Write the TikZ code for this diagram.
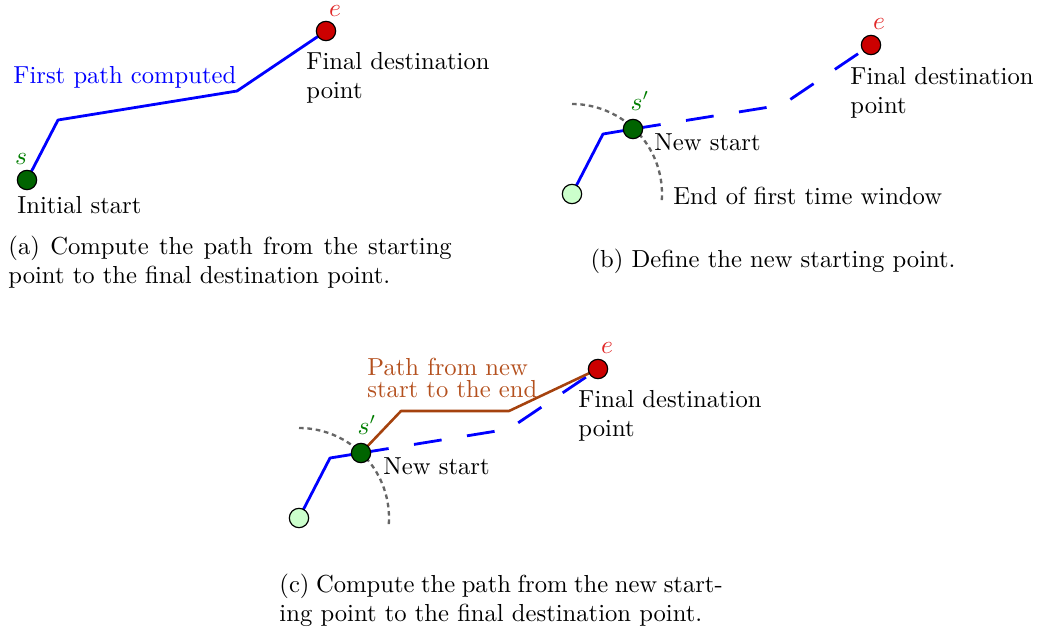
\documentclass[tikz,border=0pt]{standalone}
\usetikzlibrary{calc}
\definecolor{dgreen}{RGB}{0,100,0}
\definecolor{lgreen}{RGB}{204,255,204}
\definecolor{ered}{RGB}{204,0,0}
\definecolor{brn}{RGB}{165,66,14}
\definecolor{txtbrn}{RGB}{180,80,30}
\definecolor{txtgreen}{RGB}{0,125,0}
\definecolor{txtred}{RGB}{225,40,40}
\begin{document}
\begin{tikzpicture}[x=0.4286pt,y=-0.4286pt,
  every node/.style={font=\fontsize{10.55}{12.3}\selectfont},
  pt/.style={circle,draw=black,line width=0.5pt,minimum size=8.3pt,inner sep=0pt},
  startpt/.style={pt,fill=dgreen},
  endpt/.style={pt,fill=ered},
  oldpt/.style={pt,fill=lgreen},
  route/.style={blue,line width=1.2pt,line join=round},
  future/.style={route,dash pattern=on 12pt off 11pt},
  newroute/.style={brn,line width=1.1pt,line join=round},
  window/.style={black!60,line width=1pt,dash pattern=on 2pt off 1.6pt},
  txt/.style={inner sep=0pt,anchor=base west},
  ml/.style={inner sep=0pt,anchor=north west,align=left},
  lab/.style={inner sep=0pt,anchor=base},
  capbox/.style={inner sep=0pt,anchor=north west,text width=190pt,align=justify}
]
\useasboundingbox (0,0) rectangle (1044,628);

% ---------- (a) ----------
\coordinate (as) at (27,180);
\coordinate (a1) at (58,120);
\coordinate (a2) at (237,91);
\coordinate (ae) at (326,31);
\draw[route] (as) -- (a1) -- (a2) -- (ae);
\node[startpt] (sa) at (as) {};
\node[endpt] (ea) at (ae) {};
\node[lab,text=txtgreen] (sla) at (21,164) {$s$};
\node[lab,text=txtred] (ela) at (335,16) {$e$};
\node[txt,text=blue] (fpc) at (13,83) {First path computed};
\node[ml] (fda) at (306,52) {Final destination\\point};
\node[txt] (isa) at (17,213) {Initial start};
\node[capbox] (capa) at (8,236) {(a) Compute the path from the starting\linebreak point to the final destination point.};

% ---------- (b) ----------
\coordinate (bs) at (572,194);
\coordinate (b1) at (603,134);
\coordinate (bn) at (633,129);
\coordinate (b2) at (782,105);
\coordinate (be) at (871,45);
\draw[route] (bs) -- (b1) -- (bn);
\draw[future] (bn) -- (b2) -- (be);
\draw[window] ($(bs)+(0,-90)$) arc[start angle=-90,end angle=4,radius=90];
\node[oldpt] (sb0) at (bs) {};
\node[startpt] (sb) at (bn) {};
\node[endpt] (eb) at (be) {};
\node[lab,text=txtgreen] (slb) at (640,110) {$s'$};
\node[lab,text=txtred] (elb) at (879,29) {$e$};
\node[txt] (nsb) at (654,150) {New start};
\node[txt] (ewb) at (673,204) {End of first time window};
\node[ml] (fdb) at (850,67) {Final destination\\point};
\node[lab] (capb) at (773,267) {(b) Define the new starting point.};

% ---------- (c) ----------
\coordinate (cs) at (299,518);
\coordinate (c1) at (330,458);
\coordinate (cn) at (361,453);
\coordinate (c2) at (509,429);
\coordinate (ce) at (598,369);
\coordinate (p1) at (401,411);
\coordinate (p2) at (509,411);
\draw[route] (cs) -- (c1) -- (cn);
\draw[future] (cn) -- (c2) -- (ce);
\draw[newroute] (cn) -- (p1) -- (p2) -- (ce);
\draw[window] ($(cs)+(0,-90)$) arc[start angle=-90,end angle=4,radius=90];
\node[oldpt] (sc0) at (cs) {};
\node[startpt] (sc) at (cn) {};
\node[endpt] (ec) at (ce) {};
\node[lab,text=txtgreen] (slc) at (367,434) {$s'$};
\node[lab,text=txtred] (elc) at (607,353) {$e$};
\node[ml,text=txtbrn] (pfn) at (367,358) {Path from new\\[-2.8pt]start to the end};
\node[txt] (nsc) at (383,474) {New start};
\node[ml] (fdc) at (578,390) {Final destination\\point};
\node[capbox] (capc) at (279,574) {(c) Compute the path from the new start-\linebreak ing point to the final destination point.};
\end{tikzpicture}
\end{document}
